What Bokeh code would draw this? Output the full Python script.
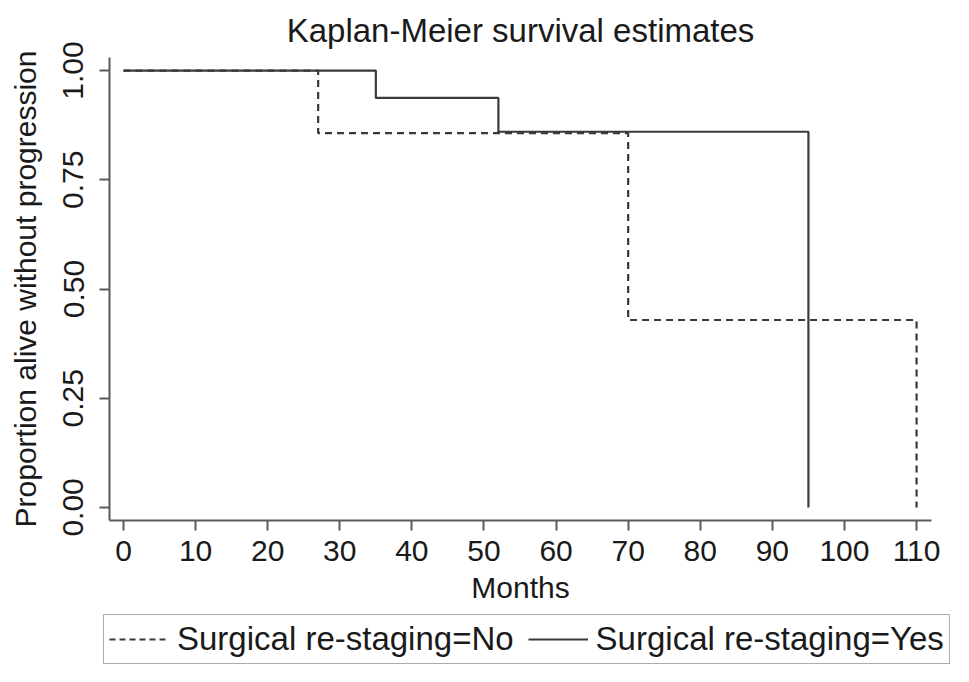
from bokeh.plotting import figure
from bokeh.models import FixedTicker, Legend, LegendItem, Range1d
from bokeh.embed import file_html
from bokeh.resources import INLINE

# Kaplan-Meier step data
no_months = [0, 27, 70, 110]
no_surv = [1.0, 0.857, 0.429, 0.0]
yes_months = [0, 35, 52, 95]
yes_surv = [1.0, 0.9375, 0.86, 0.0]

x_ticks = [0, 10, 20, 30, 40, 50, 60, 70, 80, 90, 100, 110]
y_ticks = [0.0, 0.25, 0.5, 0.75, 1.0]
y_tick_labels = {0.0: "0.00", 0.25: "0.25", 0.5: "0.50", 0.75: "0.75", 1.0: "1.00"}

label_no = "Surgical re-staging=No"
label_yes = "Surgical re-staging=Yes"

FONT = "Liberation Sans"
TXT = "#1a1a1a"
AX = "#5a5a5a"
LINE = "#3a3a3a"
DASH = "7 5"

p = figure(frame_width=822, frame_height=463, output_backend="svg", toolbar_location=None,
           x_range=Range1d(-1.94, 112.07), y_range=Range1d(-0.03, 1.03),
           min_border_left=109, min_border_right=36, min_border_top=57,
           min_border_bottom=90, title="Kaplan-Meier survival estimates")
p.outline_line_color = None
p.grid.visible = False
p.background_fill_color = "white"
p.border_fill_color = "white"

p.title.align = "center"
p.title.text_font = FONT
p.title.text_font_size = "33px"
p.title.text_font_style = "normal"
p.title.text_color = TXT
p.title.standoff = 17

p.step(no_months, no_surv, mode="after", line_color=LINE, line_width=2.2, line_dash=DASH)
p.step(yes_months, yes_surv, mode="after", line_color=LINE, line_width=2.2)

for ax in (p.xaxis[0], p.yaxis[0]):
    ax.axis_line_color = AX
    ax.axis_line_width = 2
    ax.major_tick_line_color = AX
    ax.major_tick_line_width = 2
    ax.major_tick_out = 10
    ax.major_tick_in = 0
    ax.minor_tick_line_color = None
    ax.major_label_text_font = FONT
    ax.major_label_text_font_size = "30px"
    ax.major_label_text_color = TXT
    ax.axis_label_text_font = FONT
    ax.axis_label_text_font_size = "30px"
    ax.axis_label_text_font_style = "normal"
    ax.axis_label_text_color = TXT

p.xaxis.ticker = FixedTicker(ticks=x_ticks)
p.xaxis.axis_label = "Months"
p.xaxis.major_label_standoff = 10
p.xaxis.axis_label_standoff = 7

p.yaxis.ticker = FixedTicker(ticks=y_ticks)
p.yaxis.major_label_overrides = y_tick_labels
p.yaxis.major_label_orientation = "vertical"
p.yaxis.axis_label = "Proportion alive without progression"
p.yaxis.major_label_standoff = 16
p.yaxis.axis_label_standoff = 19

# legend strip below the chart (separate root so its frame spans the full width)
q = figure(width=969, height=72, output_backend="svg", toolbar_location=None,
           x_axis_type=None, y_axis_type=None, x_range=Range1d(0, 1), y_range=Range1d(0, 1),
           min_border=0)
q.outline_line_color = None
q.grid.visible = False
r_no = q.line([5, 6], [5, 5], line_color=LINE, line_width=2.2, line_dash="6 4")
r_yes = q.line([5, 6], [5, 5], line_color=LINE, line_width=2.2)

legend = Legend(items=[LegendItem(label=label_no, renderers=[r_no]),
                       LegendItem(label=label_yes, renderers=[r_yes])],
                orientation="horizontal", location=(103, 18),
                label_text_font=FONT, label_text_font_size="33px",
                label_text_color=TXT, glyph_width=60, glyph_height=30,
                label_standoff=8, spacing=14, padding=5, margin=0,
                border_line_color=AX, border_line_width=1.5,
                background_fill_alpha=1.0)
q.add_layout(legend)

open("out.html", "w").write(file_html([p, q], INLINE))
